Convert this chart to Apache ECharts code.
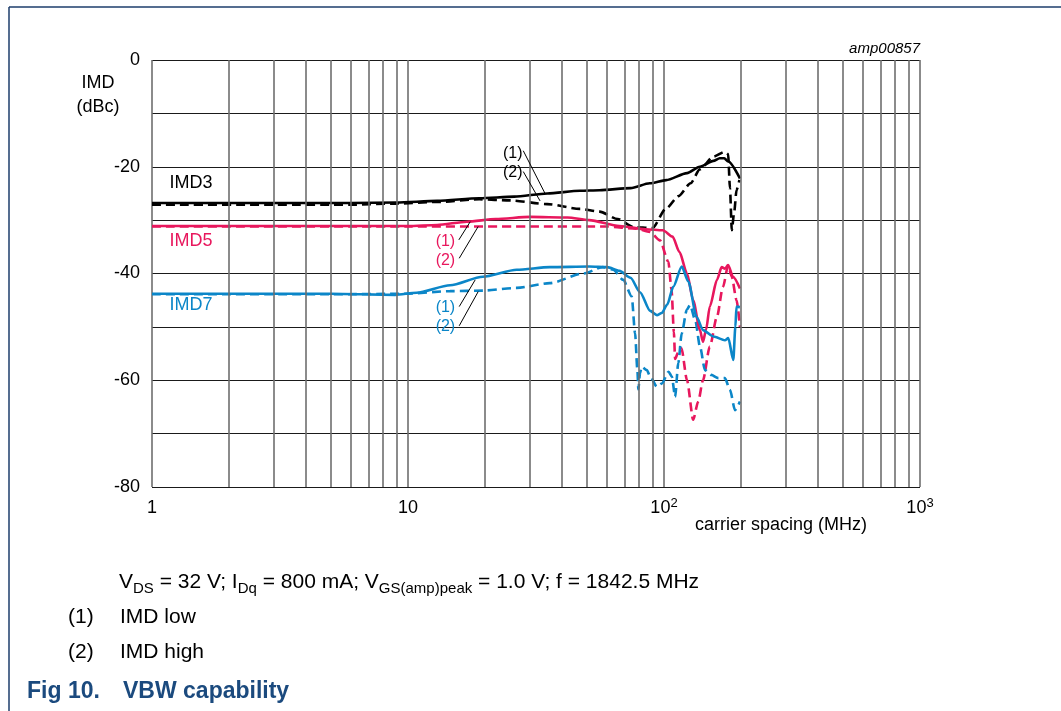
<!DOCTYPE html>
<html>
<head>
<meta charset="utf-8">
<script src="https://cdn.jsdelivr.net/npm/echarts@6/dist/echarts.min.js"></script>
<style>
html,body{margin:0;padding:0;background:#fff;}
#c{width:1061px;height:711px;}
</style>
</head>
<body>
<div id="c"></div>
<script>
// ---------- data ----------
const xTickValues = [1, 10, 100, 1000];
const xTickLabels = ['{n|1}', '{n|10}', '{n|10}{s|2}', '{n|10}{s|3}'];
const minorGridX = [2,3,4,5,6,7,8,9,20,30,40,50,60,70,80,90,200,300,400,500,600,700,800,900];

const imd3Low = [[1,-26.8],[3,-26.8],[6,-26.8],[9,-26.7],[13,-26.4],[19,-25.9],[26,-25.6],[35,-25.0],[47,-24.5],[56,-24.4],[74,-24.0],[88,-23.1],[102,-22.5],[123,-21.2],[138,-20.0],[156,-18.9],[165,-18.4],[172,-18.4],[178,-19.0],[198,-22.2]];
const imd3High = [[1,-27.1],[3,-27.1],[6,-27.1],[9,-26.9],[13,-26.6],[19,-26.1],[25,-26.3],[35,-27.0],[47,-27.9],[56,-28.4],[66,-29.8],[76,-31.3],[90,-31.5],[102,-27.8],[114,-25.5],[127,-23.1],[138,-20.5],[156,-18.1],[173,-17.2],[178,-17.6],[181,-24.0],[184,-31.9],[188,-28.5],[192,-24.4],[197,-22.5]];
const imd5Low = [[1,-31.1],[5,-31.1],[10,-31.1],[13,-30.9],[17,-30.3],[22,-29.8],[30,-29.4],[42,-29.5],[51,-30.0],[67,-31.1],[85,-31.7],[99,-31.9],[108,-33.1],[115,-36.0],[123,-40.0],[130,-45.0],[138,-50.5],[142,-52.8],[146,-50.5],[151,-46.2],[161,-41.2],[168,-38.8],[173,-39.1],[178,-38.4],[186,-40.6],[198,-42.8]];
const imd5High = [[1,-31.2],[10,-31.2],[30,-31.2],[60,-31.2],[78,-31.6],[88,-32.2],[96.5,-33.8],[104,-37.8],[107,-43.0],[109.3,-51.0],[110.5,-56.0],[113.5,-54.8],[117,-54.0],[123,-60.0],[130,-67.4],[136,-64.0],[142,-60.0],[151,-53.7],[161,-48.1],[170,-42.5],[178,-38.5],[184,-40.6],[192,-45.0],[198,-50.0]];
const imd7Low = [[1,-43.8],[5,-43.8],[8.9,-44.0],[10.8,-43.6],[14.6,-42.2],[19.6,-40.6],[26.6,-39.3],[35.8,-38.8],[51,-38.7],[60,-38.8],[67,-39.5],[74,-40.8],[80.6,-43.5],[88.3,-47.0],[93.8,-47.8],[98,-47.4],[103,-45.8],[108.7,-42.5],[117.3,-38.7],[124.5,-41.5],[134,-48.1],[142,-50.6],[156,-51.8],[173,-52.5],[178.3,-52.1],[186.5,-56.2],[190,-50.0],[192,-46.2],[198,-46.3]];
const imd7High = [[1,-43.9],[5,-43.9],[9.7,-43.8],[14.6,-43.3],[19.6,-43.2],[26.6,-42.7],[35.8,-41.8],[48.4,-40.0],[57.7,-38.8],[63.3,-39.3],[69.3,-41.2],[74.8,-44.3],[77.1,-51.2],[78.7,-58.0],[79.4,-61.7],[80.6,-58.7],[81.8,-57.5],[85.7,-58.1],[88.3,-59.3],[93.8,-61.2],[98.2,-60.6],[104.2,-58.4],[107.3,-59.3],[110.5,-63.1],[113.7,-56.8],[117.3,-51.2],[122.8,-46.8],[126.4,-45.9],[132.4,-48.7],[138.2,-53.7],[144.6,-58.1],[153,-59.0],[163,-59.6],[173,-59.6],[181,-61.8],[189.4,-65.6],[198,-64.0]];

// annotation labels (data coordinates)
const curveLabels = [
  {text:'IMD3', x:1.42, y:-23.1, color:'#000000'},
  {text:'IMD5', x:1.42, y:-34.0, color:'#E8175D'},
  {text:'IMD7', x:1.42, y:-45.9, color:'#0B86C8'}
];
const noteLabels = [
  {text:'(1)', x:25.65, y:-17.6, color:'#000000'},
  {text:'(2)', x:25.65, y:-21.1, color:'#000000'},
  {text:'(1)', x:14.0, y:-34.0, color:'#E8175D'},
  {text:'(2)', x:14.0, y:-37.5, color:'#E8175D'},
  {text:'(1)', x:14.0, y:-46.4, color:'#0B86C8'},
  {text:'(2)', x:14.0, y:-50.0, color:'#0B86C8'}
];
const leaderLines = [
  [[28.2,-17.0],[34.3,-25.0]],
  [[28.2,-20.9],[32.8,-26.4]],
  [[15.8,-33.7],[17.5,-30.3]],
  [[15.85,-37.15],[18.8,-31.2]],
  [[15.85,-46.2],[18.3,-41.2]],
  [[15.85,-49.8],[18.8,-43.4]]
];

// ---------- styles ----------
const FONT = '"Liberation Sans", Arial, sans-serif';
const BLACK = '#000000', PINK = '#E8175D', BLUE = '#0B86C8';

function lineSeries(name, data, color, dashed, z) {
  return {
    name: name, type: 'line', data: data, showSymbol: false, symbol: 'none',
    smooth: 0.25, smoothMonotone: 'x', z: z, silent: true,
    lineStyle: {color: color, width: 2.6, type: dashed ? [9, 5] : 'solid'}
  };
}

const chart = echarts.init(document.getElementById('c'));
const option = {
  animation: false,
  backgroundColor: '#ffffff',
  textStyle: {fontFamily: FONT},
  grid: {left: 152, right: 141, top: 60, bottom: 224, containLabel: false},
  xAxis: {
    type: 'log', logBase: 10, min: 1, max: 1000,
    axisLine: {show: false}, axisTick: {show: false},
    splitLine: {show: true, lineStyle: {color: '#6e6e6e', width: 1.6}},
    axisLabel: {
      margin: 10, color: '#000', fontSize: 18, fontFamily: FONT,
      formatter: function (v) {
        const i = xTickValues.indexOf(Math.round(v));
        return i >= 0 ? xTickLabels[i] : '';
      },
      rich: {
        n: {fontSize: 18, fontFamily: FONT, color: '#000', lineHeight: 22, verticalAlign: 'middle'},
        s: {fontSize: 13, fontFamily: FONT, color: '#000', verticalAlign: 'top', lineHeight: 13}
      }
    }
  },
  yAxis: {
    type: 'value', min: -80, max: 0, interval: 10,
    axisLine: {show: false}, axisTick: {show: false},
    splitLine: {show: true, lineStyle: {color: '#1a1a1a', width: 1}},
    axisLabel: {
      margin: 12, color: '#000', fontSize: 18, fontFamily: FONT,
      formatter: function (v) { return v % 20 === 0 ? String(v) : ''; }
    }
  },
  series: [
    {
      type: 'line', data: [[1, -80], [1000, -80]], showSymbol: false, silent: true, z: 1,
      lineStyle: {opacity: 0, width: 0},
      markLine: {
        silent: true, animation: false, symbol: ['none', 'none'], label: {show: false},
        lineStyle: {color: '#6e6e6e', width: 1.6, type: 'solid'},
        data: minorGridX.map(function (v) { return {xAxis: v}; })
      }
    },
    lineSeries('IMD3 high', imd3High, BLACK, true, 3),
    lineSeries('IMD5 high', imd5High, PINK, true, 3),
    lineSeries('IMD7 high', imd7High, BLUE, true, 3),
    lineSeries('IMD3 low', imd3Low, BLACK, false, 4),
    lineSeries('IMD5 low', imd5Low, PINK, false, 4),
    lineSeries('IMD7 low', imd7Low, BLUE, false, 4)
  ]
};
chart.setOption(option);

function toPx(x, y) { return chart.convertToPixel({gridIndex: 0}, [x, y]); }
function txt(text, x, y, font, color, align, rich, lineHeight) {
  const st = {text: text, x: x, y: y, font: font, fill: color,
    align: align, textAlign: align, verticalAlign: 'middle', textVerticalAlign: 'middle'};
  if (rich) st.rich = rich;
  if (lineHeight) st.lineHeight = lineHeight;
  return {type: 'text', silent: true, z: 10, style: st};
}

const g = [];
// frame
g.push({type: 'line', silent: true, shape: {x1: 9, y1: 7, x2: 1061, y2: 7}, style: {stroke: '#1d3d6b', lineWidth: 1.5}});
g.push({type: 'line', silent: true, shape: {x1: 9, y1: 7, x2: 9, y2: 711}, style: {stroke: '#1d3d6b', lineWidth: 1.5}});
// titles
g.push(txt('amp00857', 920, 49, 'italic 15px ' + FONT, '#000', 'right'));
g.push(txt('IMD', 98, 83, '18px ' + FONT, '#000', 'center'));
g.push(txt('(dBc)', 98, 107, '18px ' + FONT, '#000', 'center'));
g.push(txt('carrier spacing (MHz)', 867, 525, '18px ' + FONT, '#000', 'right'));
// curve labels
curveLabels.forEach(function (l) {
  const p = toPx(l.x, l.y);
  g.push(txt(l.text, p[0], p[1], '18px ' + FONT, l.color, 'center'));
});
noteLabels.forEach(function (l) {
  const p = toPx(l.x, l.y);
  g.push(txt(l.text, p[0], p[1], '16px ' + FONT, l.color, 'center'));
});
leaderLines.forEach(function (seg) {
  const a = toPx(seg[0][0], seg[0][1]), b = toPx(seg[1][0], seg[1][1]);
  g.push({type: 'line', silent: true, z: 10, shape: {x1: a[0], y1: a[1], x2: b[0], y2: b[1]}, style: {stroke: '#000', lineWidth: 1}});
});
// captions
g.push(txt('V{s|DS} = 32 V; I{s|Dq} = 800 mA; V{s|GS(amp)peak} = 1.0 V; f = 1842.5 MHz', 119, 582, '21px ' + FONT, '#000', 'left',
  {s: {fontSize: 15, fontFamily: FONT, fill: '#000', color: '#000', verticalAlign: 'bottom', lineHeight: 15}}, 28));
g.push(txt('(1)', 68, 617, '21px ' + FONT, '#000', 'left'));
g.push(txt('IMD low', 120, 617, '21px ' + FONT, '#000', 'left'));
g.push(txt('(2)', 68, 652, '21px ' + FONT, '#000', 'left'));
g.push(txt('IMD high', 120, 652, '21px ' + FONT, '#000', 'left'));
g.push(txt('Fig 10.', 27, 692, 'bold 23px ' + FONT, '#1b4a7e', 'left'));
g.push(txt('VBW capability', 123, 692, 'bold 23px ' + FONT, '#1b4a7e', 'left'));

chart.setOption({graphic: {elements: g}});
</script>
</body>
</html>
